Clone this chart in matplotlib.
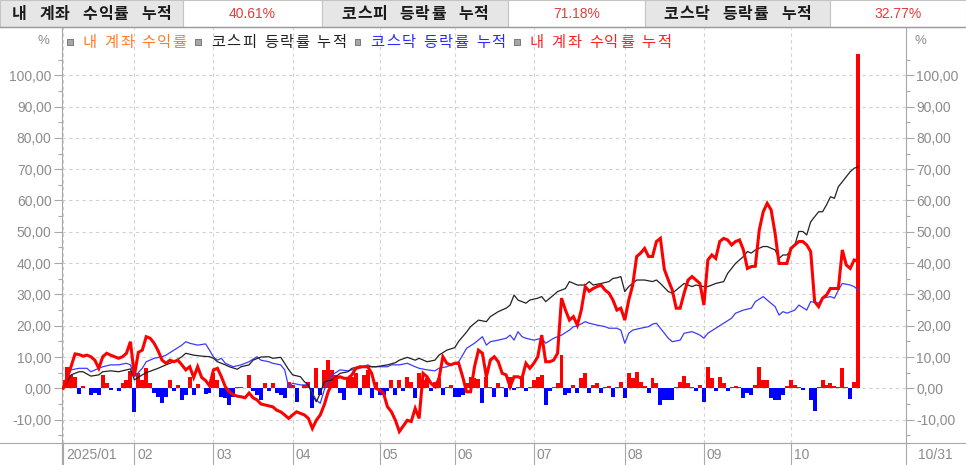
import matplotlib
matplotlib.use("Agg")
import matplotlib.pyplot as plt
from matplotlib.patches import Rectangle
from matplotlib.ticker import FuncFormatter, FixedLocator

plt.rcParams['font.family'] = ['Noto Sans CJK KR', 'DejaVu Sans']

# ---------------- data ----------------
header_labels = ["내 계좌 수익률 누적", "코스피 등락률 누적", "코스닥 등락률 누적"]
header_values = ["40.61%", "71.18%", "32.77%"]
legend_labels = ["내 계좌 수익률", "코스피 등락률 누적", "코스닥 등락률 누적", "내 계좌 수익률 누적"]

month_labels = ["2025/01", "02", "03", "04", "05", "06", "07", "08", "09", "10"]
month_start = [0, 18, 38, 58, 80, 99, 119, 142, 162, 184]
end_label = "10/31"

# account cumulative return, one value per trading day (day 0..201)
acc_cum = [
    0, 3.5, 7, 11, 10.8, 10.3, 10.6, 10.1, 9, 6.4,
    10.1, 11.2, 10.6, 10.1, 9.6, 10.1, 11.2, 14.9, 4, 11.5,
    12.2, 16.5, 16, 14.4, 12, 9, 8, 9, 8.5, 9,
    7.5, 5.9, 6.9, 3.5, 6.9, 3.5, 2.5, 0.8, 5.9, 6.4,
    3.7, 0.5, -1.1, -2, -2.5, -2.7, -3, -1.5, -3, -3.7,
    -5, -5.3, -5.6, -5.9, -7, -7.5, -8.5, -9.6, -8.5, -7.5,
    -8, -8.5, -9.6, -12.8, -10.2, -8.5, -5.3, -1.1, 1.5, 3.2,
    3.7, 3.2, 3.2, 4.3, 6.4, 6.9, 6.9, 6.9, 4.8, 0,
    -0.5, -1.6, -5.9, -7.5, -10.2, -13.8, -12, -10.2, -10.6, -6.4,
    -9.6, 4.8, 3.7, 1.6, 0.5, 3, 10.1, 8, 7.5, 8,
    8, 3.7, -1.1, -1.1, 6.9, 12.2, 11.2, 3.7, 9, 10.1,
    8.5, 4.8, 4.3, 0.5, 3.7, 3.7, 3.2, 8, 6.4, 8,
    10.1, 17, 8.5, 8.5, 9, 11.2, 28.8, 25, 21.8, 22.9,
    20.2, 25, 32.5, 31, 31.9, 32.5, 33, 31.4, 30.4, 28.2,
    25, 25.6, 21.8, 28.2, 33, 42.1, 43.2, 44.7, 42.1, 42.1,
    46.9, 47.9, 38, 34.6, 31.4, 25.6, 25.6, 30.4, 34.6, 35.7,
    34.6, 33.5, 26.6, 41, 42.6, 41.5, 46.9, 47.9, 47.4, 45.8,
    46.9, 47.4, 44.2, 38.3, 38.9, 39, 50.6, 56.4, 59.1, 57,
    49.5, 39.9, 39.9, 39.9, 44.7, 45.8, 46.9, 46.9, 45.8, 43.7,
    27.7, 26.1, 28.8, 29.8, 31.9, 31.9, 31.9, 44.2, 39.4, 38.3,
    41, 40.61,
]

# account daily return (bars), one value per trading day
acc_daily = [
    2.7, 6.9, 4.3, 3.5, -1.8, 0.7, 0, -2.1, -1.6, -2.1,
    4.3, 1.6, -0.5, 0, -0.8, 1.6, 2.7, 5.6, -7.5, 5.0,
    2.7, 6.4, 1.6, -1.6, -2.7, -4.8, -2.7, 2.7, -1.0, 1.0,
    -3.7, -2.1, 3.5, -2.1, 1.4, 0, -1.8, -1.6, 5.0, 2.7,
    -2.7, -3.2, -5.3, -2.7, 0.5, 0.5, 0, 4.3, -1.0, -2.1,
    -3.7, 1.6, -1.0, 1.6, -1.6, -2.1, -3.2, 2.1, 1.0, -4.3,
    0, 1.0, 2.1, -6.4, 6.4, -2.1, 5.9, 9.0, 5.9, 4.3,
    -1.6, -3.7, 3.2, 3.7, 4.8, -2.1, 4.3, 5.9, -3.2, 2.1,
    -2.1, -2.1, -1.0, 2.7, -2.1, 2.7, -1.0, 3.7, 2.1, -3.2,
    4.8, 2.7, 3.2, -1.0, 2.1, 3.2, -2.1, 0.5, 1.0, -2.7,
    -2.7, -2.1, 1.6, 3.7, 3.2, 3.0, -4.8, 3.5, 0.5, -2.7,
    1.6, 0.5, -2.7, 3.7, -0.5, 0.5, 3.5, -1.0, 0.5, 2.7,
    3.7, 4.3, -5.3, -1.0, 0.3, 1.6, 10.6, -2.1, -1.6, 1.0,
    -1.6, 3.2, 4.8, -1.6, 1.0, 1.6, -1.6, 0.3, 0.7, -2.7,
    0.3, 2.1, -3.2, 4.8, 3.2, 5.3, 2.1, 0.7, -1.6, 3.2,
    1.6, -5.3, -3.7, -3.7, -3.7, 0.3, 2.1, 3.9, 1.6, 0.3,
    -1.0, 1.0, -4.3, 6.9, 3.2, -1.0, 3.7, 1.6, -1.0, 0.3,
    0.7, 0.5, -3.2, -1.5, -2.1, 1.0, 6.9, 2.7, 2.7, -3.2,
    -3.7, -3.7, -2.1, 0.7, 2.7, 1.0, 0.3, -0.5, 0, -3.7,
    -7.2, 0.3, 2.7, 1.0, 1.6, 0.7, 0.5, 6.4, 0.5, -3.5,
    2.1, 106.8,
]

kospi_day = [0, 2, 4, 5, 7, 9, 10, 12, 14, 16, 17, 18, 20, 21, 24, 26, 28, 30, 31, 33,
             35, 37, 38, 39, 41, 42, 44, 45, 47, 48, 50, 52, 53, 55, 56, 57, 58, 60, 61, 62,
             63, 64, 65, 66, 68, 69, 70, 72, 73, 75, 77, 79, 80, 82, 84, 85, 87, 89, 90, 92,
             94, 95, 97, 99, 100, 102, 103, 105, 107, 108, 110, 112, 113, 114, 115, 117, 118, 120, 121, 122,
             124, 125, 127, 128, 130, 132, 133, 134, 136, 138, 139, 140, 141, 142, 143, 145, 147, 149, 150, 151,
             153, 154, 155, 157, 159, 160, 162, 163, 165, 167, 168, 170, 172, 173, 174, 175, 177, 178, 180, 181,
             182, 183, 185, 186, 187, 188, 189, 191, 192, 193, 194, 195, 196, 198, 199, 200, 201]
kospi_val = [0, 4.3, 5.3, 5.3, 3.9, 4.3, 5.3, 5.6, 5.3, 5.9, 6.2, 2.7, 4.3, 5, 6.4, 7.5, 8.5, 10.1, 11.2, 10.6,
             10.3, 10.1, 9.6, 8.5, 7.5, 6.9, 6.1, 6.9, 7.5, 9, 10, 10.1, 9.6, 9.9, 8, 6, 4.3, 3.7, 2.1, 1.1,
             -2.1, -4.3, -1.6, 2.1, 2.7, 3.7, 4.8, 5.3, 6.4, 6.9, 6.9, 6.9, 7.1, 7.5, 8.2, 9, 9.9, 9, 9.6, 8.5,
             9, 10.6, 12.2, 13, 15, 18, 19.7, 21.8, 21.3, 22.9, 24.5, 25.6, 26.6, 29.8, 28.2, 27.2, 28.2, 28.8, 29.3, 27.7,
             29.8, 30.9, 31.9, 34.1, 33, 33, 34.1, 33, 33.5, 34.1, 35.1, 35.3, 35.7, 30.9, 32.5, 34.6, 34.6, 34.1, 34.6, 33.5,
             30.9, 30.4, 31.4, 33.5, 32.5, 33, 32.5, 32.5, 33.5, 34.1, 36.7, 39.9, 42.1, 43.7, 43.2, 44.2, 45.3, 45.3, 44.2, 41.5,
             42.6, 42.6, 45.8, 50.1, 50.1, 49, 53.2, 56.4, 56.4, 58.6, 61.2, 60.7, 64.4, 67.6, 69.2, 70.3, 70.8]

kosdaq_day = [0, 1, 2, 4, 6, 7, 9, 10, 12, 14, 16, 17, 18, 20, 21, 23, 25, 26, 28, 30,
              31, 32, 34, 36, 37, 38, 39, 40, 41, 43, 45, 47, 49, 50, 52, 53, 55, 56, 57, 58,
              60, 62, 63, 64, 65, 66, 67, 68, 70, 72, 73, 75, 77, 78, 80, 82, 83, 85, 87, 89,
              90, 92, 94, 95, 97, 99, 100, 101, 102, 104, 106, 107, 108, 110, 112, 113, 114, 115, 116, 117,
              119, 121, 122, 124, 126, 128, 129, 130, 132, 133, 135, 137, 138, 140, 141, 142, 143, 144, 146, 148,
              149, 150, 151, 153, 154, 156, 157, 159, 160, 161, 162, 163, 165, 167, 169, 170, 172, 174, 175, 177,
              178, 180, 181, 182, 183, 185, 186, 188, 189, 191, 192, 194, 195, 196, 197, 199, 200, 201]
kosdaq_val = [0, 3.5, 5.9, 6.4, 6.4, 5.3, 6.4, 6.9, 7.5, 7.5, 8, 7.5, 3.7, 6.4, 8.5, 9.6, 10.1, 10.6, 12.2, 13.8,
              14.9, 14.4, 13.8, 14.2, 12.2, 10, 9, 9.6, 8, 6.9, 7.5, 8.5, 10.1, 9, 8.5, 8, 7.5, 5.9, 0.5, 1.6,
              1.1, 1.1, -1.6, -3.7, -4.8, -0.5, 2.1, 4.3, 5.9, 5.6, 5.9, 6.4, 7.5, 6.9, 6.9, 6.9, 7.5, 7.5, 8, 6.9,
              6.4, 5.9, 5.6, 6.4, 6.9, 8, 8.5, 10.6, 12.8, 14.4, 16.5, 13.8, 14.9, 15.4, 16, 17, 15.4, 18.1, 16.5, 16,
              15.4, 16, 14.4, 16, 17, 18.6, 19.7, 19.9, 21.3, 20.8, 20.2, 19.7, 19.2, 19.2, 18.6, 14.4, 17.6, 18.6, 19.2, 19.7,
              20.5, 20.8, 19.2, 16, 14.9, 15.4, 17.6, 18.1, 17.6, 17, 16, 17.6, 19.2, 20.8, 22.4, 24, 25, 25.6, 27.7, 29.3,
              28.2, 26.1, 23.4, 24.5, 24, 25, 26.6, 25, 27.7, 27.2, 28.8, 29.3, 28.8, 31.4, 33.5, 33, 32.5, 31.4]

# ---------------- layout helpers ----------------
W, H = 966, 465
AX_L, AX_R, AX_T, AX_B = 62, 906, 28, 443
GRAY_TXT = '#8c8c8c'
AXIS_COL = '#a8a8a8'

fig = plt.figure(figsize=(W / 100, H / 100), dpi=100)
fig.patch.set_facecolor('white')

ax = fig.add_axes([AX_L / W, (H - AX_B) / H, (AX_R - AX_L) / W, (AX_B - AX_T) / H])
ax.set_zorder(1)

days = list(range(len(acc_cum)))
bar_days = list(range(len(acc_daily)))
bar_colors = ['#ff0000' if v >= 0 else '#0000ff' for v in acc_daily]
ax.bar(bar_days, acc_daily, width=1.0, color=bar_colors, linewidth=0, zorder=2)
ax.plot(kosdaq_day, kosdaq_val, color='#3b3bff', lw=0.9, zorder=3)
ax.plot(kospi_day, kospi_val, color='#222222', lw=0.9, zorder=3)
ax.plot(days, acc_cum, color='#ff0000', lw=2.2, zorder=4, solid_joinstyle='miter')

px_per_day = 3.955
x0 = -0.3
ax.set_xlim(x0, x0 + (AX_R - AX_L) / px_per_day)
ax.set_ylim(-17.46, 115.1)

ax.yaxis.set_major_locator(FixedLocator(list(range(-10, 101, 10))))
ax.yaxis.set_minor_locator(FixedLocator([v + 5 for v in range(-20, 101, 10)]))
ax.yaxis.set_major_formatter(FuncFormatter(lambda v, p: f"{v:.2f}".replace('.', ',')))
ax.tick_params(axis='y', which='both', left=True, right=True, labelleft=True, labelright=True,
               colors=AXIS_COL, labelcolor=GRAY_TXT, labelsize=10, pad=1.5)
ax.tick_params(axis='y', which='major', length=6, width=0.8)
ax.tick_params(axis='y', which='minor', length=3, width=0.8)
for lab in ax.get_yticklabels():
    lab.set_fontfamily('Liberation Sans')

ax.set_xticks(month_start)
ax.tick_params(axis='x', length=16, width=0.8, color=AXIS_COL, labelbottom=False)

ax.grid(True, which='major', axis='both', color='#d2d2d2', linestyle=(0, (3, 3)), lw=0.8)
ax.set_axisbelow(True)
ax.spines['top'].set_visible(False)
for s in ['left', 'right', 'bottom']:
    ax.spines[s].set_color(AXIS_COL)
    ax.spines[s].set_linewidth(0.8)

for d, lab in zip(month_start, month_labels):
    ax.annotate(lab, xy=(d, 0), xycoords=('data', 'axes fraction'), xytext=(2.2, -8.6),
                textcoords='offset points', ha='left', va='center', color=GRAY_TXT,
                fontsize=10, fontfamily='Liberation Sans')
ax.annotate(end_label, xy=(1, 0), xycoords='axes fraction', xytext=(8.6, -8.6),
            textcoords='offset points', ha='left', va='center', color=GRAY_TXT,
            fontsize=10, fontfamily='Liberation Sans')

# ---------------- overlay in pixel coordinates ----------------
ov = fig.add_axes([0, 0, 1, 1])
ov.set_xlim(0, W)
ov.set_ylim(H, 0)
ov.axis('off')
ov.patch.set_alpha(0)
ov.set_zorder(2)


def spaced_text(x, y, s, adv, sp, ha='left', **kw):
    widths = [sp if c == ' ' else adv for c in s]
    total = sum(widths)
    if ha == 'center':
        x = x - total / 2
    for c, w in zip(s, widths):
        if c != ' ':
            ov.text(x + w / 2, y, c, ha='center', va='center', **kw)
        x += w
    return x


# header cells
cells = [(0, 183), (183, 322), (322, 508), (508, 645), (645, 830), (830, W)]
for i, (a, b) in enumerate(cells):
    fc = '#e6e6e6' if i % 2 == 0 else '#ffffff'
    ov.add_patch(Rectangle((a, 0), b - a, 27, facecolor=fc, edgecolor='#c4c4c4', lw=0.8))
for i, lab in enumerate(header_labels):
    a, b = cells[2 * i]
    spaced_text((a + b) / 2, 13.5, lab, 15.5, 12.0, ha='center', fontsize=11.5,
                fontweight='bold', color='#1a1a1a')
for i, val in enumerate(header_values):
    a, b = cells[2 * i + 1]
    ov.text((a + b) / 2, 13.5, val, ha='center', va='center', fontsize=10,
            color='#e43c3c', fontfamily='Liberation Sans')
ov.plot([0, W], [27.5, 27.5], color='#9a9a9a', lw=1)

# bottom axis line across full width and extensions of side axes
ov.plot([0, W], [AX_B, AX_B], color=AXIS_COL, lw=0.8)
ov.plot([AX_L, AX_L], [AX_B, H], color=AXIS_COL, lw=0.8)
ov.plot([AX_R, AX_R], [AX_B, H], color=AXIS_COL, lw=0.8)

# % labels
ov.text(43.5, 41.5, '%', ha='center', va='center', color=GRAY_TXT, fontsize=9.5,
        fontfamily='Liberation Sans')
ov.text(920, 41.5, '%', ha='center', va='center', color=GRAY_TXT, fontsize=9.5,
        fontfamily='Liberation Sans')

# legend
legend_colors = ['#ff7a2a', '#222222', '#2b2bff', '#ff2020']
x = 67
for lab, col in zip(legend_labels, legend_colors):
    ov.add_patch(Rectangle((x, 39), 5.5, 6, facecolor='#a6a6a6', edgecolor='#6a6a6a', lw=0.6))
    x = spaced_text(x + 15, 42, lab, 15.5, 6.2, ha='left', fontsize=11, color=col)
    x += 8

fig.savefig('out.png', dpi=100)
